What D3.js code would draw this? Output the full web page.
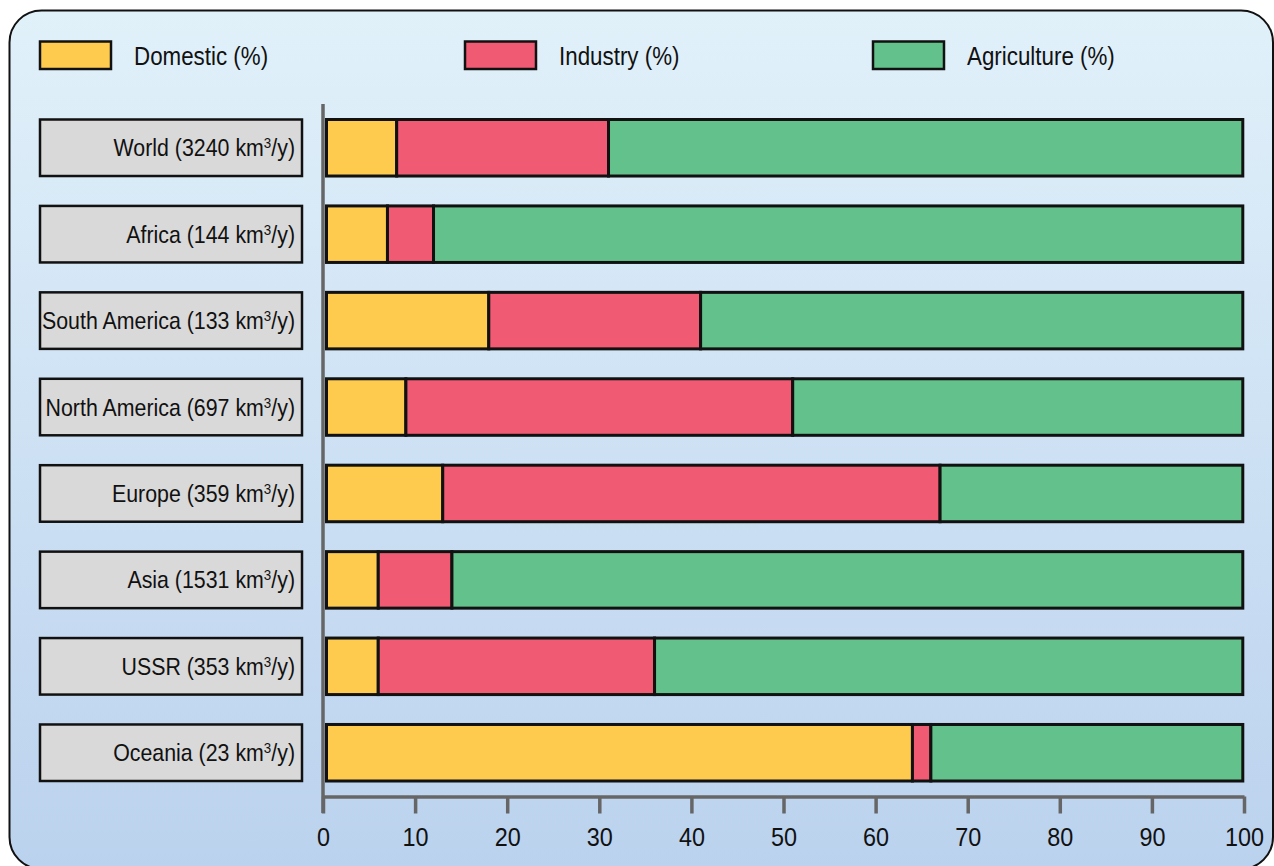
<!DOCTYPE html>
<html>
<head>
<meta charset="utf-8">
<script src="https://cdn.jsdelivr.net/npm/d3@7"></script>
<style>
  html, body { margin: 0; padding: 0; background: #ffffff; }
  svg { display: block; }
  text { font-family: "Liberation Sans", Arial, sans-serif; fill: #111; }
</style>
</head>
<body>
<svg id="chart" width="1274" height="866"></svg>
<script>
// Water withdrawal by sector, per region
const regions = ["World", "Africa", "South America", "North America", "Europe", "Asia", "USSR", "Oceania"];
const volumes = [3240, 144, 133, 697, 359, 1531, 353, 23]; // km³/y
const domestic = [8, 7, 18, 9, 13, 6, 6, 64];
const industry = [23, 5, 23, 42, 54, 8, 30, 2];
const agriculture = [69, 88, 59, 49, 33, 86, 64, 34];
const seriesNames = ["Domestic (%)", "Industry (%)", "Agriculture (%)"];
const seriesColors = ["#fecb4e", "#f05a73", "#63c18b"];
const xTicks = [0, 10, 20, 30, 40, 50, 60, 70, 80, 90, 100];

const svg = d3.select("#chart");
const narrow = "scale(0.89,1)";

// Panel background with vertical gradient
const defs = svg.append("defs");
const grad = defs.append("linearGradient").attr("id", "bg").attr("x1", 0).attr("y1", 0).attr("x2", 0).attr("y2", 1);
grad.append("stop").attr("offset", "0%").attr("stop-color", "#e1f1fa");
grad.append("stop").attr("offset", "100%").attr("stop-color", "#bbd2ee");

const px0 = 9.5, py0 = 10.5, px1 = 1273, py1 = 869, r = 32;
svg.append("path")
  .attr("d", `M${px0},${py0 + r} A${r},${r} 0 0 1 ${px0 + r},${py0} L${px1 - r},${py0} A${r},${r} 0 0 1 ${px1},${py0 + r} L${px1},${py1 - r} A${r},${r} 0 0 1 ${px1 - r},${py1} L${px0 + r},${py1} A${r},${r} 0 0 1 ${px0},${py1 - r} Z`)
  .attr("fill", "url(#bg)")
  .attr("stroke", "#111")
  .attr("stroke-width", 2);

// Scales
const x = d3.scaleLinear().domain([0, 100]).range([323, 1244]);
const y = d3.scaleBand().domain(regions).range([119.5, 781]).paddingInner(0.346).paddingOuter(0);

// Stacked data
const rows = regions.map((name, i) => ({ name, Domestic: domestic[i], Industry: industry[i], Agriculture: agriculture[i] }));
const keys = ["Domestic", "Industry", "Agriculture"];
const stack = d3.stack().keys(keys)(rows);

// Region label boxes
const labelG = svg.append("g");
regions.forEach((name, i) => {
  const g = labelG.append("g").attr("transform", `translate(0,${y(name)})`);
  g.append("rect")
    .attr("x", 40).attr("y", 0)
    .attr("width", 262).attr("height", y.bandwidth())
    .attr("fill", "#d9d9d9").attr("stroke", "#111").attr("stroke-width", 2.5);
  const t = g.append("g")
    .attr("transform", `translate(295,${y.bandwidth() / 2 + 8.5}) ${narrow}`)
    .append("text")
    .attr("text-anchor", "end")
    .attr("font-size", 24);
  t.append("tspan").text(`${name} (${volumes[i]} km`);
  t.append("tspan").attr("dy", -8).attr("font-size", 15).text("3");
  t.append("tspan").attr("dy", 8).text("/y)");
});

// Bars
const leftInset = 3.5, rightInset = 1.2;
svg.append("g").selectAll("g")
  .data(stack).join("g")
  .attr("fill", (d, i) => seriesColors[i])
  .selectAll("rect")
  .data(d => d).join("rect")
  .attr("x", d => x(d[0]) + (d[0] === 0 ? leftInset : 0))
  .attr("y", d => y(d.data.name))
  .attr("width", d => x(d[1]) - x(d[0]) - (d[0] === 0 ? leftInset : 0) - (d[1] >= 100 ? rightInset : 0))
  .attr("height", y.bandwidth())
  .attr("stroke", "#111")
  .attr("stroke-width", 3);

// Axes
const axisColor = "#666";
svg.append("line")
  .attr("x1", x(0)).attr("x2", x(0))
  .attr("y1", 104).attr("y2", 813)
  .attr("stroke", axisColor).attr("stroke-width", 3.5);

const xAxis = d3.axisBottom(x).tickValues(xTicks).tickSize(17).tickPadding(14).tickSizeOuter(0);
const ax = svg.append("g").attr("transform", "translate(0,796.5)").call(xAxis);
ax.select(".domain").attr("stroke", axisColor).attr("stroke-width", 3.5);
ax.selectAll(".tick line").attr("stroke", axisColor).attr("stroke-width", 3.5);
ax.selectAll(".tick text")
  .attr("font-size", 26)
  .attr("font-family", "\"Liberation Sans\", Arial, sans-serif")
  .attr("fill", "#111")
  .attr("transform", "scale(0.9,1)");

// Legend
const legendX = [40, 465, 873];
seriesNames.forEach((name, i) => {
  const g = svg.append("g").attr("transform", `translate(${legendX[i]},41.5)`);
  g.append("rect").attr("width", 71).attr("height", 27.5)
    .attr("fill", seriesColors[i]).attr("stroke", "#111").attr("stroke-width", 2.5);
  g.append("g").attr("transform", "translate(94,23.5) scale(0.86,1)")
    .append("text").attr("font-size", 26).text(name);
});
</script>
</body>
</html>
